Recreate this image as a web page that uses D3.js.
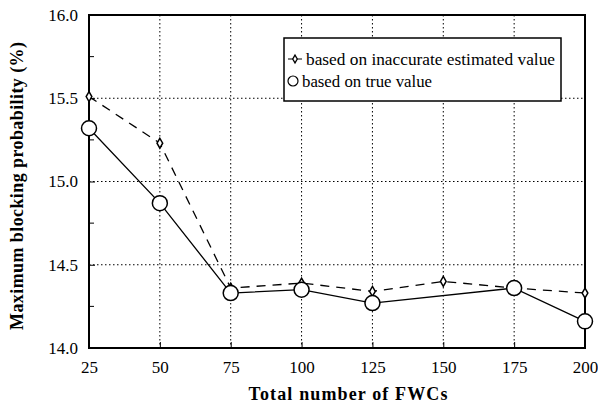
<!DOCTYPE html>
<html><head><meta charset="utf-8">
<script src="https://cdn.jsdelivr.net/npm/d3@7"></script>
</head>
<body style="margin:0;background:#fff;">
<svg id="chart" width="598" height="407"></svg>
<script>
const xTicks = [25, 50, 75, 100, 125, 150, 175, 200];
const yTicks = [14.0, 14.5, 15.0, 15.5, 16.0];
const yMinorTicks = [14.25, 14.75, 15.25, 15.75];
const estX = [25, 50, 75, 100, 125, 150, 175, 200];
const estY = [15.51, 15.23, 14.36, 14.39, 14.34, 14.40, 14.36, 14.33];
const trueX = [25, 50, 75, 100, 125, 175, 200];
const trueY = [15.32, 14.87, 14.33, 14.35, 14.27, 14.36, 14.16];
const legendLabels = ["based on inaccurate estimated value", "based on true value"];
const xTitle = "Total number of FWCs";
const yTitle = "Maximum blocking probability (%)";

const FONT = "Liberation Serif, Tinos, Times New Roman, Times, serif";
const svg = d3.select("#chart");
svg.attr("font-family", FONT).style("font-family", FONT);
const m = {l: 89, r: 585, t: 15, b: 348};
const x = d3.scaleLinear().domain([25, 200]).range([m.l, m.r]);
const y = d3.scaleLinear().domain([14, 16]).range([m.b, m.t]);

function serif(sel) {
  return sel.attr("font-family", FONT).style("font-family", FONT);
}

// grid
const g = svg.append("g");
g.selectAll(".vg").data(xTicks.slice(1, -1)).join("line")
  .attr("x1", d => x(d)).attr("x2", d => x(d)).attr("y1", m.t).attr("y2", m.b)
  .attr("stroke", "#000").attr("stroke-width", 1).attr("stroke-dasharray", "1.5,2.5");
g.selectAll(".hg").data(yTicks.slice(1, -1)).join("line")
  .attr("y1", d => y(d)).attr("y2", d => y(d)).attr("x1", m.l).attr("x2", m.r)
  .attr("stroke", "#000").attr("stroke-width", 1).attr("stroke-dasharray", "1.5,2.5");

// axes
const yAxis = d3.axisLeft(y).tickValues(yTicks).tickFormat(d3.format(".1f")).tickSize(-6).tickPadding(11);
const ya = svg.append("g").attr("transform", `translate(${m.l},0)`).call(yAxis);
const xAxis = d3.axisBottom(x).tickValues(xTicks).tickFormat(d3.format("d")).tickSize(-6).tickPadding(13);
const xa = svg.append("g").attr("transform", `translate(0,${m.b})`).call(xAxis);
[ya, xa].forEach(a => {
  serif(a);
  a.select(".domain").remove();
  serif(a.selectAll("text")).style("font-size", "17px").attr("fill", "#000");
  a.selectAll("line").attr("stroke", "#000");
});
ya.selectAll(".minor").data(yMinorTicks).join("line")
  .attr("x1", 0).attr("x2", 5).attr("y1", d => y(d)).attr("y2", d => y(d)).attr("stroke", "#000");

// frame
svg.append("rect").attr("x", m.l).attr("y", m.t).attr("width", m.r - m.l).attr("height", m.b - m.t)
  .attr("fill", "none").attr("stroke", "#000").attr("stroke-width", 2);

// lines
const estData = estX.map((v, i) => [v, estY[i]]);
const trueData = trueX.map((v, i) => [v, trueY[i]]);
const line = d3.line().x(d => x(d[0])).y(d => y(d[1]));
svg.append("path").datum(estData).attr("d", line).attr("fill", "none")
  .attr("stroke", "#000").attr("stroke-width", 1.3).attr("stroke-dasharray", "9,7");
svg.append("path").datum(trueData).attr("d", line).attr("fill", "none")
  .attr("stroke", "#000").attr("stroke-width", 1.3);

const diamond = d3.symbol().type(d3.symbolDiamond).size(28);
svg.selectAll(".dm").data(estData).join("path")
  .attr("d", diamond).attr("transform", d => `translate(${x(d[0])},${y(d[1])})`)
  .attr("fill", "#fff").attr("stroke", "#000").attr("stroke-width", 1.5);
svg.selectAll(".cm").data(trueData).join("circle")
  .attr("cx", d => x(d[0])).attr("cy", d => y(d[1])).attr("r", 7.5)
  .attr("fill", "#fff").attr("stroke", "#000").attr("stroke-width", 1.5);

// legend
const lg = svg.append("g");
lg.append("rect").attr("x", 284).attr("y", 38).attr("width", 277).attr("height", 63)
  .attr("fill", "#fff").attr("stroke", "#000").attr("stroke-width", 1.5);
lg.append("line").attr("x1", 288).attr("x2", 302).attr("y1", 59).attr("y2", 59).attr("stroke", "#000");
lg.append("path").attr("d", d3.symbol().type(d3.symbolDiamond).size(18))
  .attr("transform", "translate(295,59)").attr("fill", "#fff").attr("stroke", "#000").attr("stroke-width", 1.3);
lg.append("circle").attr("cx", 293).attr("cy", 81).attr("r", 5).attr("fill", "#fff").attr("stroke", "#000").attr("stroke-width", 1.2);
serif(lg.selectAll("text").data(legendLabels).join("text"))
  .attr("x", (d, i) => i === 0 ? 306 : 302).attr("y", (d, i) => 65 + i * 22)
  .style("font-size", "17px").attr("fill", "#000")
  .attr("textLength", (d, i) => i === 0 ? 249 : 130).attr("lengthAdjust", "spacingAndGlyphs")
  .text(d => d);

// titles
serif(svg.append("text")).attr("x", 348).attr("y", 400).attr("text-anchor", "middle")
  .style("font-size", "18px").style("font-weight", "bold").attr("fill", "#000")
  .attr("textLength", 199).attr("lengthAdjust", "spacing")
  .text(xTitle);
serif(svg.append("text")).attr("transform", "translate(23,186) rotate(-90)").attr("text-anchor", "middle")
  .style("font-size", "18px").style("font-weight", "bold").attr("fill", "#000")
  .attr("textLength", 288).attr("lengthAdjust", "spacing")
  .text(yTitle);
</script>
</body></html>
